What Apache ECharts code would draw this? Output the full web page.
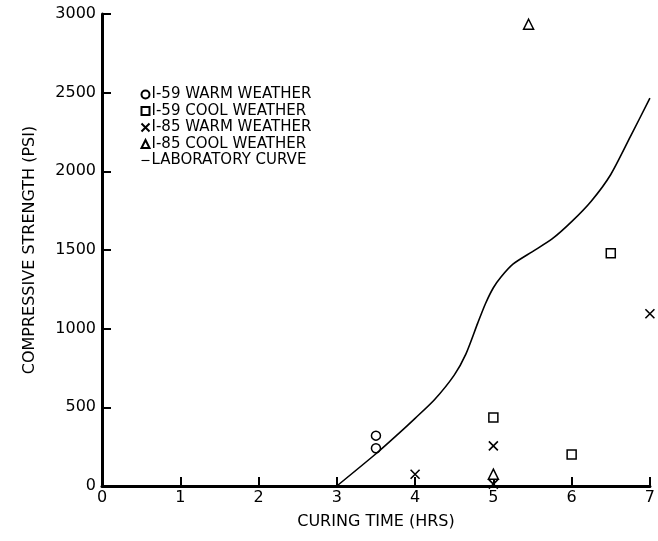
<!DOCTYPE html>
<html>
<head>
<meta charset="utf-8">
<script src="https://cdn.jsdelivr.net/npm/echarts@6/dist/echarts.min.js"></script>
<style>
  html, body { margin: 0; padding: 0; background: #fff; }
  #chart { width: 658px; height: 541px; }
</style>
</head>
<body>
<div id="chart"></div>
<script>
// readings taken off the figure
const i59WarmX = [3.5, 3.5];
const i59WarmY = [320, 240];
const i59CoolX = [5, 6, 6.5];
const i59CoolY = [435, 200, 1480];
const i85WarmX = [4, 5, 5, 7];
const i85WarmY = [75, 255, 12, 1095];
const i85CoolX = [5, 5.45];
const i85CoolY = [75, 2935];
const labX = [3, 3.5, 3.75, 4, 4.25, 4.5, 4.65, 4.8, 4.9, 5, 5.1, 5.25, 5.5, 5.75, 6, 6.25, 6.5, 6.75, 7];
const labY = [0, 205, 315, 430, 550, 705, 840, 1035, 1160, 1260, 1330, 1410, 1490, 1570, 1680, 1810, 1980, 2220, 2465];

const seriesNames = ['I-59 WARM WEATHER', 'I-59 COOL WEATHER', 'I-85 WARM WEATHER', 'I-85 COOL WEATHER', 'LABORATORY CURVE'];

const pairs = (xs, ys) => xs.map((x, i) => [x, ys[i]]);
const font = 'DejaVu Sans';
const hollow = { color: '#fff', borderColor: '#000', borderWidth: 1.5, opacity: 1 };

let mycharts = echarts.init(document.getElementById('chart'));
mycharts.setOption({
  animation: false,
  backgroundColor: '#fff',
  grid: { left: 102, right: 4, top: 14, bottom: 55 },
  legend: {
    orient: 'vertical',
    left: 134,
    top: 82,
    itemWidth: 8,
    itemHeight: 8,
    itemGap: 1.5,
    textStyle: { fontFamily: font, fontSize: 15, color: '#000', padding: [0, 0, 0, -3] },
    data: [
      seriesNames[0], seriesNames[1], seriesNames[2], seriesNames[3],
      { name: seriesNames[4], icon: 'path://M0,0H10V1.4H0Z', itemStyle: { color: '#000', borderWidth: 0 } }
    ]
  },
  xAxis: {
    type: 'value',
    min: 0,
    max: 7,
    interval: 1,
    name: 'CURING TIME (HRS)',
    nameLocation: 'middle',
    nameGap: 28,
    nameTextStyle: { fontFamily: font, fontSize: 16, color: '#000' },
    splitLine: { show: false },
    axisLine: { lineStyle: { color: '#000', width: 3 } },
    axisTick: { inside: true, length: 9, lineStyle: { color: '#000', width: 2 } },
    axisLabel: { fontFamily: font, fontSize: 16, color: '#000', margin: 4 }
  },
  yAxis: {
    type: 'value',
    min: 0,
    max: 3000,
    interval: 500,
    name: 'COMPRESSIVE STRENGTH (PSI)',
    nameLocation: 'middle',
    nameGap: 64,
    nameTextStyle: { fontFamily: font, fontSize: 16, color: '#000' },
    splitLine: { show: false },
    axisLine: { lineStyle: { color: '#000', width: 3 } },
    axisTick: { inside: true, length: 9, lineStyle: { color: '#000', width: 2 } },
    axisLabel: { fontFamily: font, fontSize: 16, color: '#000', margin: 6, formatter: v => String(v) }
  },
  series: [
    {
      name: seriesNames[0], type: 'scatter', symbol: 'circle', symbolSize: 9,
      itemStyle: hollow, data: pairs(i59WarmX, i59WarmY)
    },
    {
      name: seriesNames[1], type: 'scatter', symbol: 'rect', symbolSize: 9,
      itemStyle: hollow, data: pairs(i59CoolX, i59CoolY)
    },
    {
      name: seriesNames[2], type: 'scatter', symbol: 'path://M0,0L10,10M10,0L0,10', symbolSize: 9,
      itemStyle: { color: 'none', borderColor: '#000', borderWidth: 1.6, opacity: 1 }, data: pairs(i85WarmX, i85WarmY)
    },
    {
      name: seriesNames[3], type: 'scatter', symbol: 'triangle', symbolSize: 10,
      itemStyle: hollow, data: pairs(i85CoolX, i85CoolY)
    },
    {
      name: seriesNames[4], type: 'line', smooth: 0.25, symbol: 'none',
      lineStyle: { color: '#000', width: 1.6 }, itemStyle: { color: '#000' },
      data: pairs(labX, labY)
    }
  ]
});
</script>
</body>
</html>
